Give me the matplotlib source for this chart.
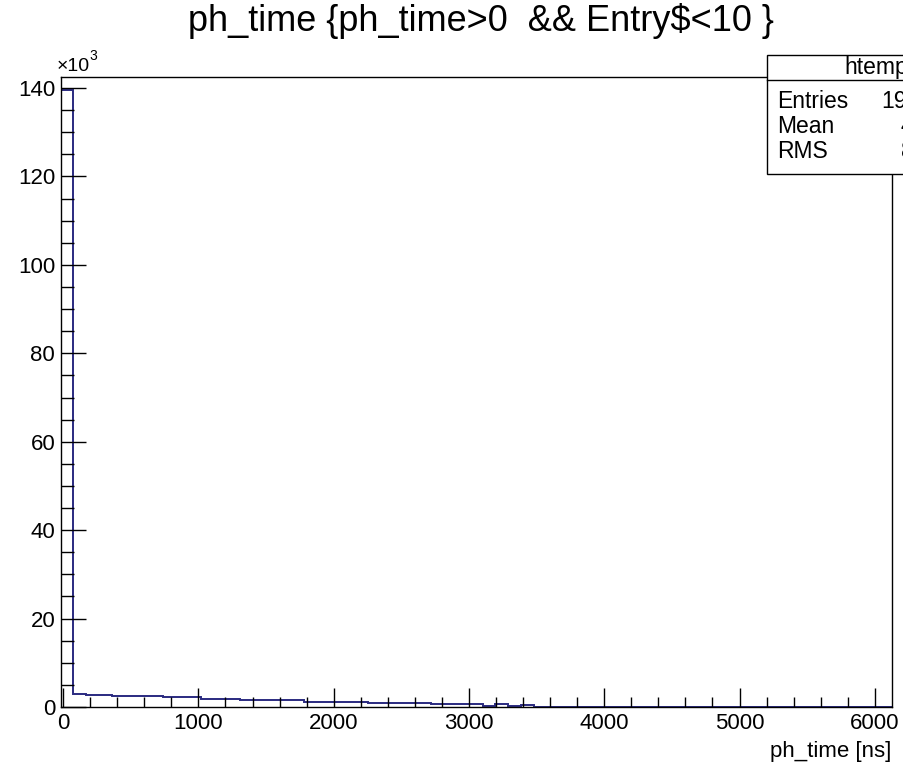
import numpy as np
import matplotlib
matplotlib.use("Agg")
import matplotlib.pyplot as plt
from matplotlib.patches import Rectangle
from matplotlib.lines import Line2D
from matplotlib.ticker import MultipleLocator, FuncFormatter

plt.rcParams['font.family'] = ['Liberation Sans', 'DejaVu Sans']

# histogram range and per-bin counts (65 bins)
x_min, x_max = -18.0, 6125.0
counts = [139600, 2900, 2750, 2750, 2500, 2500, 2500, 2500, 2150, 2150,
          2150, 1850, 1850, 1850, 1550, 1550, 1550, 1550, 1550, 1200,
          1200, 1200, 1200, 1200, 800, 800, 800, 800, 800, 650,
          650, 650, 650, 200, 600, 200, 550, 60, 60, 60,
          60, 60, 60, 60, 60, 60, 60, 60, 60, 60,
          60, 60, 60, 60, 60, 60, 60, 60, 60, 60,
          60, 60, 60, 60, 60]
x_ticks = [0, 1000, 2000, 3000, 4000, 5000, 6000]
y_ticks = [0, 20000, 40000, 60000, 80000, 100000, 120000, 140000]

title = "ph_time {ph_time>0  && Entry$<10 }"
hist_name = "htemp"
x_label = "ph_time [ns]"

counts = np.array(counts, dtype=float)
edges = np.linspace(x_min, x_max, len(counts) + 1)
centers = 0.5 * (edges[:-1] + edges[1:])
n_entries = int(counts.sum())
mean = float((counts * centers).sum() / counts.sum())
rms = float(np.sqrt((counts * (centers - mean) ** 2).sum() / counts.sum()))

W, H = 904, 764
fig = plt.figure(figsize=(W / 100, H / 100), dpi=100)

def fx(px):
    return px / W

def fy(py):
    return 1 - py / H

left, right, top, bottom = 60.7, 891.7, 77.0, 707.0
ax = fig.add_axes([fx(left), fy(bottom), fx(right) - fx(left), fy(top) - fy(bottom)])
ax.stairs(counts, edges, color='#2a2a80', linewidth=1.4)
ax.set_xlim(x_min, x_max)
ax.set_ylim(0, 142490)

for s in ax.spines.values():
    s.set_linewidth(1.0)
    s.set_color('black')

ax.set_xticks(x_ticks)
ax.set_yticks(y_ticks)
ax.xaxis.set_minor_locator(MultipleLocator(200))
ax.yaxis.set_minor_locator(MultipleLocator(5000))
ax.xaxis.set_major_formatter(FuncFormatter(lambda v, p: f"{v:g}"))
ax.yaxis.set_major_formatter(FuncFormatter(lambda v, p: f"{v / 1000:g}"))
ax.tick_params(axis='x', which='major', direction='in', length=13.5, width=1.0,
               labelsize=16, pad=4, top=False)
ax.tick_params(axis='x', which='minor', direction='in', length=7, width=1.0, top=False)
ax.tick_params(axis='y', which='major', direction='in', length=18, width=1.0,
               labelsize=16, pad=4, right=False)
ax.tick_params(axis='y', which='minor', direction='in', length=9.5, width=1.0, right=False)

# exponent marker above the y axis
fig.text(fx(57), fy(71), "\u00d710", fontsize=14, ha='left', va='baseline')
fig.text(fx(89), fy(60), "3", fontsize=10, ha='left', va='baseline')

# axis title, right-aligned at the end of the x axis
fig.text(fx(891), fy(757), x_label, fontsize=16, ha='right', va='baseline')

# histogram title
fig.text(fx(481), fy(31), title, fontsize=26, ha='center', va='baseline')

# statistics box
bx0, bx1, by0, by1, bsep = 767, 990, 55, 174, 80
fig.patches.append(Rectangle((fx(bx0), fy(by1)), fx(bx1) - fx(bx0), fy(by0) - fy(by1),
                             transform=fig.transFigure, facecolor='white',
                             edgecolor='black', linewidth=1.0, zorder=5))
fig.lines.append(Line2D([fx(bx0), fx(bx1)], [fy(bsep), fy(bsep)],
                        transform=fig.transFigure, color='black', linewidth=1.0, zorder=6))
fig.text(fx(876), fy(74), hist_name, fontsize=16.5, ha='center', va='baseline', zorder=7)
rows = [("Entries", f"{n_entries}"), ("Mean", f"{mean:.4g}"), ("RMS", f"{rms:.4g}")]
for i, (name, val) in enumerate(rows):
    yb = 108 + 25 * i
    fig.text(fx(777), fy(yb), name, fontsize=16.5, ha='left', va='baseline', zorder=7)
    fig.text(fx(958), fy(yb), val, fontsize=16.5, ha='right', va='baseline', zorder=7)

fig.savefig("out.png", dpi=100)
